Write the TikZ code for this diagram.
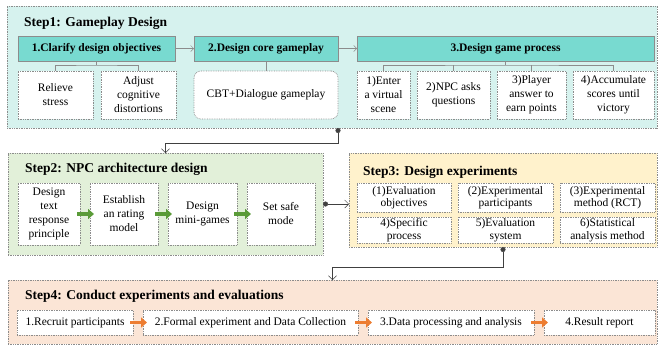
\documentclass[tikz,border=0pt]{standalone}
\usepackage{fontspec}
\setmainfont{Liberation Serif}
\usetikzlibrary{arrows.meta,positioning}
\definecolor{cyanbg}{HTML}{D6F2EE}
\definecolor{tealhead}{HTML}{78DAD0}
\definecolor{greenbg}{HTML}{E2F0D9}
\definecolor{greenarr}{HTML}{5A9B38}
\definecolor{yellowbg}{HTML}{FFF2CC}
\definecolor{peachbg}{HTML}{FBE5D6}
\definecolor{orangearr}{HTML}{ED7D31}
\definecolor{edgegray}{HTML}{8C8C8C}
\tikzset{
  panel/.style={draw=edgegray, densely dotted, line width=0.7pt, anchor=north west, inner sep=0pt, outer sep=0pt},
  steptitle/.style={anchor=west, font=\fontsize{13.5}{15}\selectfont\bfseries, inner sep=0pt},
  headbox/.style={draw=edgegray, fill=tealhead, line width=0.7pt, anchor=north west, inner sep=1pt, outer sep=0pt,
    font=\fontsize{11.5}{13}\selectfont\bfseries},
  subbox/.style={draw=edgegray, fill=white, densely dotted, line width=0.7pt, anchor=north west, inner sep=1pt, outer sep=0pt,
    align=center, font=\fontsize{11.5}{14}\selectfont},
  link/.style={draw=black!75, line width=0.5pt},
  blockarr/.style={line width=3.5pt, shorten <=-3pt, shorten >=-4pt, -{Triangle[length=6pt,width=10pt]}}
}
\begin{document}
\begin{tikzpicture}[x=1pt,y=-1pt]
\useasboundingbox (0,0) rectangle (659,346);
% Step1
\node[panel, fill=cyanbg, minimum width=650, minimum height=122] (s1) at (7,6) {};
\node[steptitle] (t1) at (24,23) {Step1: Gameplay Design};
\node[headbox, minimum width=157, minimum height=25] (h1) at (18,36) {1.Clarify design objectives};
\node[headbox, minimum width=144, minimum height=25] (h2) at (194,36) {2.Design core gameplay};
\node[headbox, minimum width=297, minimum height=25] (h3) at (357,36) {3.Design game process};
\node[subbox, minimum width=75, minimum height=48] (rs) at (18,71) {Relieve\\stress};
\node[subbox, minimum width=75, minimum height=48] (ad) at (101,71) {Adjust\\cognitive\\distortions};
\node[subbox, rounded corners=7pt, minimum width=144, minimum height=48] (cbt) at (194,71) {CBT+Dialogue gameplay};
\node[subbox, minimum width=53, minimum height=48] (e1) at (357,71) {1)Enter\\a virtual\\scene};
\node[subbox, minimum width=73, minimum height=48] (e2) at (417,71) {2)NPC asks\\questions};
\node[subbox, minimum width=69, minimum height=48] (e3) at (497,71) {3)Player\\answer to\\earn points};
\node[subbox, minimum width=81, minimum height=48] (e4) at (573,71) {4)Accumulate\\scores until\\victory};
\draw[link, edgegray, -{Straight Barb[length=3pt]}] (h1) -- (h2);
\draw[link, edgegray, -{Straight Barb[length=3pt]}] (h2) -- (h3);
\draw[link, edgegray] (h1.south) -- ++(0,4) coordinate (b1);
\draw[link, edgegray] (rs.north) |- (b1) -| (ad.north);
\draw[link, edgegray] (h2.south) -- (cbt.north);
\draw[link, edgegray] (h3.south) -- ++(0,4) coordinate (b3);
\draw[link, edgegray] (e1.north) |- (b3) -| (e4.north);
\draw[link, edgegray] (e2.north) -- (e2.north |- b3);
\draw[link, edgegray] (e3.north) -- (e3.north |- b3);
% Step2
\node[panel, fill=greenbg, minimum width=315, minimum height=102] (s2) at (8,153) {};
\node[steptitle] (t2) at (25,169) {Step2: NPC architecture design};
\node[subbox, minimum width=62, minimum height=62] (a1) at (18,183) {Design\\text\\response\\principle};
\node[subbox, minimum width=68, minimum height=62] (a2) at (90,183) {Establish\\an rating\\model};
\node[subbox, minimum width=69, minimum height=62] (a3) at (168,183) {Design\\mini-games};
\node[subbox, minimum width=68, minimum height=62] (a4) at (247,183) {Set safe\\mode};
\foreach \i/\j in {a1/a2,a2/a3,a3/a4}
  \draw[blockarr, greenarr] (\i) -- (\j);
% Step3
\node[panel, fill=yellowbg, minimum width=308, minimum height=94] (s3) at (349,153) {};
\node[steptitle] (t3) at (363,172) {Step3: Design experiments};
\tikzset{subbox/.append style={font=\fontsize{11.5}{12.5}\selectfont}}
\node[subbox, minimum width=94, minimum height=29] (x1) at (357,183) {(1)Evaluation\\objectives};
\node[subbox, minimum width=95, minimum height=29] (x2) at (458,183) {(2)Experimental\\participants};
\node[subbox, minimum width=95, minimum height=29] (x3) at (560,183) {(3)Experimental\\method (RCT)};
\node[subbox, minimum width=94, minimum height=26] (x4) at (357,217) {4)Specific\\process};
\node[subbox, minimum width=95, minimum height=26] (x5) at (458,217) {5)Evaluation\\system};
\node[subbox, minimum width=95, minimum height=26] (x6) at (560,217) {6)Statistical\\analysis method};
% Step4
\node[panel, fill=peachbg, minimum width=649, minimum height=64] (s4) at (8,280) {};
\node[steptitle] (t4) at (25,296) {Step4: Conduct experiments and evaluations};
\node[subbox, minimum width=116, minimum height=25] (r1) at (17,310) {1.Recruit participants};
\node[subbox, minimum width=215, minimum height=25] (r2) at (143,310) {2.Formal experiment and Data Collection};
\node[subbox, minimum width=166, minimum height=25] (r3) at (368,310) {3.Data processing and analysis};
\node[subbox, minimum width=111, minimum height=25] (r4) at (544,310) {4.Result report};
\foreach \i/\j in {r1/r2,r2/r3,r3/r4}
  \draw[blockarr, orangearr] (\i) -- (\j);
% links between steps
\draw[link, {Circle[length=5pt]}-{Straight Barb[length=4pt]}] (s1.south -| h2.east) -- ++(0,15) -| (s2.north);
\draw[link, {Circle[length=5pt]}-{Straight Barb[length=4pt]}] (s2.east) -- (s2.east -| s3.west);
\draw[link, {Circle[length=5pt]}-{Straight Barb[length=4pt]}] (s3.south) -- ++(0,20) -| (s4.north);
\end{tikzpicture}
\end{document}
